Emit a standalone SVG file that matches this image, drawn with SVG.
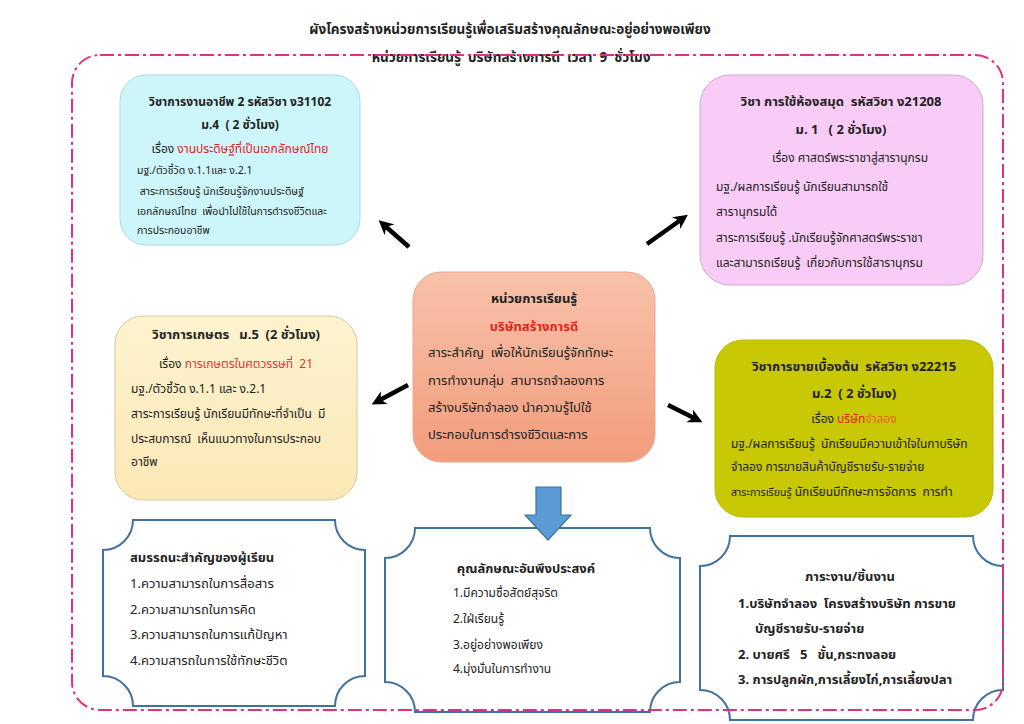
<svg xmlns="http://www.w3.org/2000/svg" width="1024" height="724" viewBox="0 0 1024 724" xml:space="preserve">
<defs>
<style>
text{font-family:"Noto Sans Thai","Noto Sans Thai UI","Tahoma","Loma","Garuda","Liberation Sans",sans-serif;fill:#222;white-space:pre;}
.t{font-size:13.5px;font-weight:bold;}
.h{font-size:13px;font-weight:bold;}
.b{font-size:12px;}
.s{font-size:10.5px;}
.c{text-anchor:middle;}
.red{fill:#e02424;}
.plq{fill:#fff;stroke:#41719c;stroke-width:2;}
.arr{stroke:#000;stroke-width:4.5;fill:none;marker-end:url(#ah);}
</style>
<marker id="ah" viewBox="0 0 10 10" refX="5" refY="5" markerWidth="3.2" markerHeight="3.2" orient="auto" markerUnits="strokeWidth">
<path d="M0,0 L10,5 L0,10 L3,5 Z" fill="#000"/>
</marker>
<linearGradient id="gSal" x1="0" y1="0" x2="0" y2="1">
<stop offset="0" stop-color="#f8c2aa"/>
<stop offset="1" stop-color="#f29c7c"/>
</linearGradient>
<linearGradient id="gYel" x1="0" y1="0" x2="0" y2="1">
<stop offset="0" stop-color="#fdf3cf"/>
<stop offset="1" stop-color="#fbe8b6"/>
</linearGradient>
</defs>
<rect width="1024" height="724" fill="#fff"/>

<g id="title">
<text class="t c" x="510" y="34">ผังโครงสร้างหน่วยการเรียนรู้เพื่อเสริมสร้างคุณลักษณะอยู่อย่างพอเพียง</text>
<text class="t c" x="511" y="62">หน่วยการเรียนรู้  บริษัทสร้างการดี  เวลา  9  ชั่วโมง</text>
</g>

<g id="node-career">
<rect x="120" y="75" width="240" height="170" rx="26" fill="#ccf6fa" stroke="#a9dde6" stroke-width="1"/>
<text class="h c" x="240" y="106" style="font-size:12px">วิชาการงานอาชีพ 2 รหัสวิชา ง31102</text>
<text class="h c" x="240" y="129" style="font-size:12px">ม.4  ( 2 ชั่วโมง)</text>
<text class="b c" x="240" y="153">เรื่อง <tspan class="red">งานประดิษฐ์ที่เป็นเอกลักษณ์ไทย</tspan></text>
<text class="s" x="137" y="174">มฐ./ตัวชี้วัด ง.1.1และ ง.2.1</text>
<text class="s" x="137" y="195"> สาระการเรียนรู้ นักเรียนรู้จักงานประดิษฐ์</text>
<text class="s" x="137" y="215">เอกลักษณ์ไทย  เพื่อนำไปใช้ในการดำรงชีวิตและ</text>
<text class="s" x="137" y="234">การประกอบอาชีพ</text>
</g>

<g id="node-library">
<rect x="700" y="75" width="283" height="210" rx="30" fill="#f9ccf7" stroke="#cfa6d6" stroke-width="1"/>
<text class="h c" x="841" y="106">วิชา การใช้ห้องสมุด  รหัสวิชา ง21208</text>
<text class="h c" x="841" y="134">ม. 1   ( 2 ชั่วโมง)</text>
<text class="b c" x="850" y="162">เรื่อง ศาสตร์พระราชาสู่สารานุกรม</text>
<text class="b" x="716" y="191">มฐ./ผลการเรียนรู้ นักเรียนสามารถใช้</text>
<text class="b" x="716" y="216">สารานุกรมได้</text>
<text class="b" x="716" y="242">สาระการเรียนรู้ .นักเรียนรู้จักศาสตร์พระราชา</text>
<text class="b" x="716" y="267">และสามารถเรียนรู้  เกี่ยวกับการใช้สารานุกรม</text>
</g>

<g id="node-unit">
<rect x="413" y="272" width="242" height="190" rx="28" fill="url(#gSal)" stroke="#eea58c" stroke-width="1"/>
<text class="h c" x="534" y="303">หน่วยการเรียนรู้</text>
<text class="h c red" x="534" y="331">บริษัทสร้างการดี</text>
<text class="b" x="428" y="357" style="font-size:13px">สาระสำคัญ  เพื่อให้นักเรียนรู้จักทักษะ</text>
<text class="b" x="428" y="385" style="font-size:13px">การทำงานกลุ่ม  สามารถจำลองการ</text>
<text class="b" x="428" y="412" style="font-size:13px">สร้างบริษัทจำลอง นำความรู้ไปใช้</text>
<text class="b" x="428" y="439" style="font-size:13px">ประกอบในการดำรงชีวิตและการ</text>
</g>

<g id="node-agri">
<rect x="115" y="316" width="242" height="184" rx="28" fill="url(#gYel)" stroke="#d8c99c" stroke-width="1"/>
<text class="h c" x="236" y="339">วิชาการเกษตร   ม.5  (2 ชั่วโมง)</text>
<text class="b c" x="236" y="368">เรื่อง <tspan fill="#d83a3a">การเกษตรในศตวรรษที่  21</tspan></text>
<text class="b" x="131" y="393">มฐ./ตัวชี้วัด ง.1.1 และ ง.2.1</text>
<text class="b" x="131" y="418">สาระการเรียนรู้ นักเรียนมีทักษะที่จำเป็น  มี</text>
<text class="b" x="131" y="443">ประสบการณ์  เห็นแนวทางในการประกอบ</text>
<text class="b" x="131" y="466">อาชีพ</text>
</g>

<g id="node-sales">
<rect x="715" y="340" width="278" height="177" rx="28" fill="#c8c804" stroke="#b9b900" stroke-width="1"/>
<text class="h c" x="854" y="371">วิชาการขายเบื้องต้น  รหัสวิชา ง22215</text>
<text class="h c" x="854" y="398">ม.2  ( 2 ชั่วโมง)</text>
<text class="b c" x="854" y="423">เรื่อง <tspan fill="#e02020">บริษัท</tspan><tspan fill="#e8651c">จำลอง</tspan></text>
<text class="b" x="731" y="448">มฐ./ผลการเรียนรู้  นักเรียนมีความเข้าใจในกาบริษัท</text>
<text class="b" x="731" y="471">จำลอง การขายสินค้าบัญชีรายรับ-รายจ่าย</text>
<text class="b" x="731" y="496"><tspan style="font-size:10.5px">สาระการเรียนรู้</tspan> นักเรียนมีทักษะการจัดการ  การทำ</text>
</g>

<g id="node-competency">
<path class="plq" d="M133,520 L335,520 A30,30 0 0 0 365,550 L365,676 A30,30 0 0 0 335,706 L133,706 A30,30 0 0 0 103,676 L103,550 A30,30 0 0 0 133,520 Z"/>
<text class="h" x="130" y="562">สมรรถนะสำคัญของผู้เรียน</text>
<text class="b" x="130" y="588" style="font-size:13px">1.ความสามารถในการสื่อสาร</text>
<text class="b" x="130" y="614" style="font-size:13px">2.ความสามารถในการคิด</text>
<text class="b" x="130" y="639" style="font-size:13px">3.ความสามารถในการแก้ปัญหา</text>
<text class="b" x="130" y="665" style="font-size:13px">4.ความสารถในการใช้ทักษะชีวิต</text>
</g>

<g id="node-attributes">
<path class="plq" d="M415,528 L650,528 A30,30 0 0 0 680,558 L680,682 A30,30 0 0 0 650,712 L415,712 A30,30 0 0 0 385,682 L385,558 A30,30 0 0 0 415,528 Z"/>
<text class="h c" x="526" y="573">คุณลักษณะอันพึงประสงค์</text>
<text class="b" x="453" y="597">1.มีความซื่อสัตย์สุจริต</text>
<text class="b" x="453" y="623">2.ใฝ่เรียนรู้</text>
<text class="b" x="453" y="649">3.อยู่อย่างพอเพียง</text>
<text class="b" x="453" y="673">4.มุ่งมั่นในการทำงาน</text>
</g>

<g id="node-workpieces">
<path class="plq" d="M730,536 L973,536 A30,30 0 0 0 1003,566 L1003,690 A30,30 0 0 0 973,720 L730,720 A30,30 0 0 0 700,690 L700,566 A30,30 0 0 0 730,536 Z"/>
<text class="h c" x="850" y="581">ภาระงาน/ชิ้นงาน</text>
<text class="h" x="738" y="608">1.บริษัทจำลอง  โครงสร้างบริษัท การขาย</text>
<text class="h" x="755" y="633">บัญชีรายรับ-รายจ่าย</text>
<text class="h" x="738" y="659">2. บายศรี   5   ขั้น,กระทงลอย</text>
<text class="h" x="738" y="684">3. การปลูกผัก,การเลี้ยงไก่,การเลี้ยงปลา</text>
</g>

<g id="connectors">
<line class="arr" x1="409" y1="247" x2="384" y2="225"/>
<line class="arr" x1="647" y1="244" x2="682" y2="219"/>
<line class="arr" x1="408" y1="385" x2="378" y2="401"/>
<line class="arr" x1="668" y1="405" x2="696" y2="419"/>
<path d="M536,487 L561,487 L561,515 L571,515 L548,540 L525,515 L536,515 Z" fill="#5b9bd5" stroke="#41719c" stroke-width="1.2"/>
</g>

<g id="frame">
<rect x="72" y="55" width="931" height="655" rx="28" fill="none" stroke="#e4307c" stroke-width="2" stroke-dasharray="14 4 3 4"/>
</g>
</svg>
